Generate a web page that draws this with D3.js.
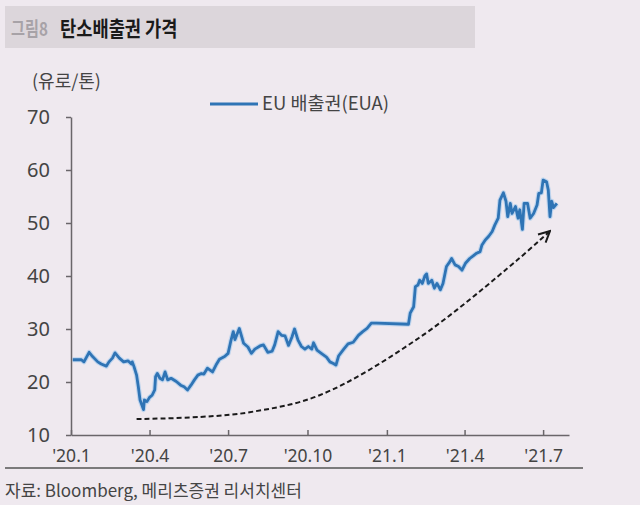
<!DOCTYPE html>
<html>
<head>
<meta charset="utf-8">
<script src="https://cdn.jsdelivr.net/npm/d3@7"></script>
<style>
  html, body { margin: 0; padding: 0; background: #efe9ef; }
  svg { display: block; font-family: "Noto Sans CJK KR", "Noto Sans", sans-serif; }
</style>
</head>
<body>
<div id="chart"></div>
<script>
// EUA price, euro per tonne
const dates = [
  "2020-01-03","2020-01-13","2020-01-16","2020-01-22","2020-01-26","2020-02-01","2020-02-05","2020-02-11",
  "2020-02-14","2020-02-18","2020-02-21","2020-02-26","2020-03-02","2020-03-07","2020-03-11","2020-03-12",
  "2020-03-14","2020-03-17","2020-03-19","2020-03-21","2020-03-23","2020-03-25","2020-03-26","2020-03-29",
  "2020-04-01","2020-04-04","2020-04-07","2020-04-08","2020-04-10","2020-04-13","2020-04-16","2020-04-19",
  "2020-04-22","2020-04-26","2020-05-02","2020-05-07","2020-05-11","2020-05-15","2020-05-19","2020-05-23",
  "2020-05-27","2020-05-31","2020-06-03","2020-06-07","2020-06-13","2020-06-17","2020-06-21","2020-06-27",
  "2020-07-01","2020-07-04","2020-07-07","2020-07-09","2020-07-14","2020-07-19","2020-07-24","2020-07-28",
  "2020-08-01","2020-08-07","2020-08-11","2020-08-16","2020-08-21","2020-08-24","2020-08-28","2020-09-01",
  "2020-09-05","2020-09-09","2020-09-13","2020-09-16","2020-09-20","2020-09-24","2020-09-28","2020-10-02",
  "2020-10-06","2020-10-08","2020-10-12","2020-10-17","2020-10-23","2020-10-27","2020-10-31","2020-11-03",
  "2020-11-06","2020-11-12","2020-11-17","2020-11-23","2020-11-29","2020-12-04","2020-12-09","2020-12-14",
  "2020-12-20","2021-01-26","2021-01-28","2021-02-01","2021-02-03","2021-02-06","2021-02-08","2021-02-11",
  "2021-02-14","2021-02-16","2021-02-18","2021-02-22","2021-02-25","2021-02-28","2021-03-04","2021-03-07",
  "2021-03-11","2021-03-15","2021-03-17","2021-03-21","2021-03-25","2021-03-29","2021-04-02","2021-04-07",
  "2021-04-11","2021-04-15","2021-04-19","2021-04-21","2021-04-25","2021-04-29","2021-05-03","2021-05-06",
  "2021-05-10","2021-05-12","2021-05-16","2021-05-19","2021-05-21","2021-05-24","2021-05-26","2021-05-30",
  "2021-06-02","2021-06-04","2021-06-07","2021-06-09","2021-06-13","2021-06-16","2021-06-20","2021-06-24",
  "2021-06-26","2021-06-29","2021-07-01","2021-07-05","2021-07-07","2021-07-09","2021-07-11","2021-07-13",
  "2021-07-17"
];
const prices = [
  24.2,24.2,23.8,25.6,24.8,23.8,23.4,23.0,
  23.8,24.5,25.5,24.5,23.8,24.0,23.4,23.8,
  22.9,21.3,19.1,16.6,15.7,14.8,16.6,16.3,
  17.1,17.5,18.5,21.0,21.6,20.7,20.4,21.9,
  20.4,20.7,20.1,19.4,19.1,18.5,19.4,20.4,
  21.3,21.6,21.5,22.6,21.9,23.2,24.3,24.8,
  25.4,27.6,29.5,28.0,30.1,27.3,26.6,25.4,
  26.2,26.8,27.0,25.6,25.8,27.0,29.5,28.8,
  28.7,26.9,28.5,30.0,27.9,26.7,26.2,26.7,
  26.2,27.4,26.0,25.4,24.7,23.8,23.5,23.2,
  24.9,26.2,27.2,27.5,28.8,29.5,30.1,31.1,
  31.1,30.9,33.0,34.2,38.0,38.3,39.2,38.6,
  40.0,40.4,38.6,39.2,37.7,38.6,37.4,38.6,
  41.8,42.7,43.3,42.1,41.8,41.1,42.4,43.3,
  43.8,44.3,44.6,45.8,46.8,47.5,48.4,49.6,
  50.9,54.3,55.7,54.1,51.2,53.7,51.8,53.1,
  50.9,52.5,48.8,53.7,53.7,50.9,51.8,53.4,
  55.6,55.7,58.1,57.8,56.2,51.2,54.1,52.9,
  53.7
];

// trend arrow drawn over the chart (date, value)
const trendDates = ["2020-03-17","2020-05-29","2020-07-26","2020-10-15","2021-02-07","2021-06-01","2021-07-09"];
const trendValues = [13.0, 13.4, 14.3, 17.5, 28.3, 43.0, 48.5];

const yTicks = [10, 20, 30, 40, 50, 60, 70];
const xTickDates = ["2020-01-01","2020-04-01","2020-07-01","2020-10-01","2021-01-01","2021-04-01","2021-07-01"];
const xTickLabels = ["'20.1","'20.4","'20.7","'20.10","'21.1","'21.4","'21.7"];

const title = "탄소배출권 가격";
const figLabel = "그림8";
const unitLabel = "(유로/톤)";
const seriesName = "EU 배출권(EUA)";
const source = "자료: Bloomberg, 메리츠증권 리서치센터";

const width = 640, height = 505;
const margin = { top: 117, right: 71, bottom: 70, left: 71 };
const parse = d3.timeParse("%Y-%m-%d");

const svg = d3.select("#chart")
    .append("svg")
    .attr("width", width)
    .attr("height", height);

svg.append("rect")
    .attr("width", width)
    .attr("height", height)
    .attr("fill", "#efe9ef");

// Title bar (the original font is a condensed one, so squeeze it a bit)
svg.append("rect")
    .attr("x", 5).attr("y", 6)
    .attr("width", 470).attr("height", 42)
    .attr("fill", "#dcd6db");

svg.append("text")
    .attr("transform", "translate(11,36) scale(0.8,1)")
    .style("font-size", "19px")
    .style("font-weight", "bold")
    .attr("fill", "#a7a2a7")
    .text(figLabel);

svg.append("text")
    .attr("transform", "translate(60,36) scale(0.84,1)")
    .style("font-size", "21px")
    .style("font-weight", "bold")
    .attr("fill", "#1a1a1a")
    .text(title);

// Scales
const xScale = d3.scaleTime()
    .domain([parse("2020-01-01"), parse("2021-07-31")])
    .range([margin.left, width - margin.right]);
const yScale = d3.scaleLinear()
    .domain([10, 70])
    .range([height - margin.bottom, margin.top]);

// Axes
const yAxis = d3.axisLeft(yScale)
    .tickValues(yTicks)
    .tickSizeInner(5)
    .tickSizeOuter(0)
    .tickPadding(16);

const xAxis = d3.axisBottom(xScale)
    .tickValues(xTickDates.map(parse))
    .tickSizeInner(-5)
    .tickSizeOuter(0)
    .tickPadding(15)
    .tickFormat((d, i) => xTickLabels[i]);

const gy = svg.append("g")
    .attr("class", "y-axis")
    .attr("transform", `translate(${margin.left},0)`)
    .call(yAxis);

const gx = svg.append("g")
    .attr("class", "x-axis")
    .attr("transform", `translate(0,${height - margin.bottom})`)
    .call(xAxis);

[gx, gy].forEach(g => {
    g.selectAll("path, line").attr("stroke", "#6a666a").attr("stroke-width", 1.5);
    g.selectAll(".tick text")
        .attr("fill", "#444")
        .style("font-family", "\"Noto Sans\", sans-serif");
});
gy.selectAll(".tick text").style("font-size", "20px");
gx.selectAll(".tick text").style("font-size", "17.5px");

// Unit label
svg.append("text")
    .attr("x", 32).attr("y", 88)
    .style("font-size", "18px")
    .attr("fill", "#444")
    .text(unitLabel);

// Legend
svg.append("line")
    .attr("x1", 210).attr("x2", 258)
    .attr("y1", 104).attr("y2", 104)
    .attr("stroke", "#2f74b5")
    .attr("stroke-width", 3);

svg.append("text")
    .attr("x", 262).attr("y", 110)
    .style("font-size", "18.5px")
    .attr("fill", "#444")
    .text(seriesName);

// Trend arrow
svg.append("defs").append("marker")
    .attr("id", "arrow")
    .attr("viewBox", "0 0 10 10")
    .attr("refX", 9).attr("refY", 5)
    .attr("markerWidth", 7).attr("markerHeight", 7)
    .attr("orient", "auto")
    .append("path")
    .attr("d", "M1,1 L9,5 L1,9")
    .attr("fill", "none")
    .attr("stroke", "#1a1a1a")
    .attr("stroke-width", 1.4);

const trendLine = d3.line()
    .x(d => xScale(d[0]))
    .y(d => yScale(d[1]))
    .curve(d3.curveCatmullRom);

svg.append("path")
    .datum(trendDates.map((d, i) => [parse(d), trendValues[i]]))
    .attr("fill", "none")
    .attr("stroke", "#1a1a1a")
    .attr("stroke-width", 2)
    .attr("stroke-dasharray", "5,3")
    .attr("marker-end", "url(#arrow)")
    .attr("d", trendLine);

// Price line
const line = d3.line()
    .x(d => xScale(d[0]))
    .y(d => yScale(d[1]));

const series = dates.map((d, i) => [parse(d), prices[i]]);

svg.append("path")
    .datum(series)
    .attr("fill", "none")
    .attr("stroke", "#9cc7ec")
    .attr("stroke-width", 5)
    .attr("stroke-linejoin", "round")
    .attr("opacity", 0.6)
    .attr("d", line);

svg.append("path")
    .datum(series)
    .attr("fill", "none")
    .attr("stroke", "#2f74b5")
    .attr("stroke-width", 2.8)
    .attr("stroke-linejoin", "round")
    .attr("d", line);

// Footer
svg.append("line")
    .attr("x1", 5).attr("x2", 583)
    .attr("y1", 468).attr("y2", 468)
    .attr("stroke", "#555")
    .attr("stroke-width", 1.5);

svg.append("text")
    .attr("x", 5).attr("y", 497)
    .style("font-size", "17px")
    .attr("fill", "#444")
    .text(source);
</script>
</body>
</html>
